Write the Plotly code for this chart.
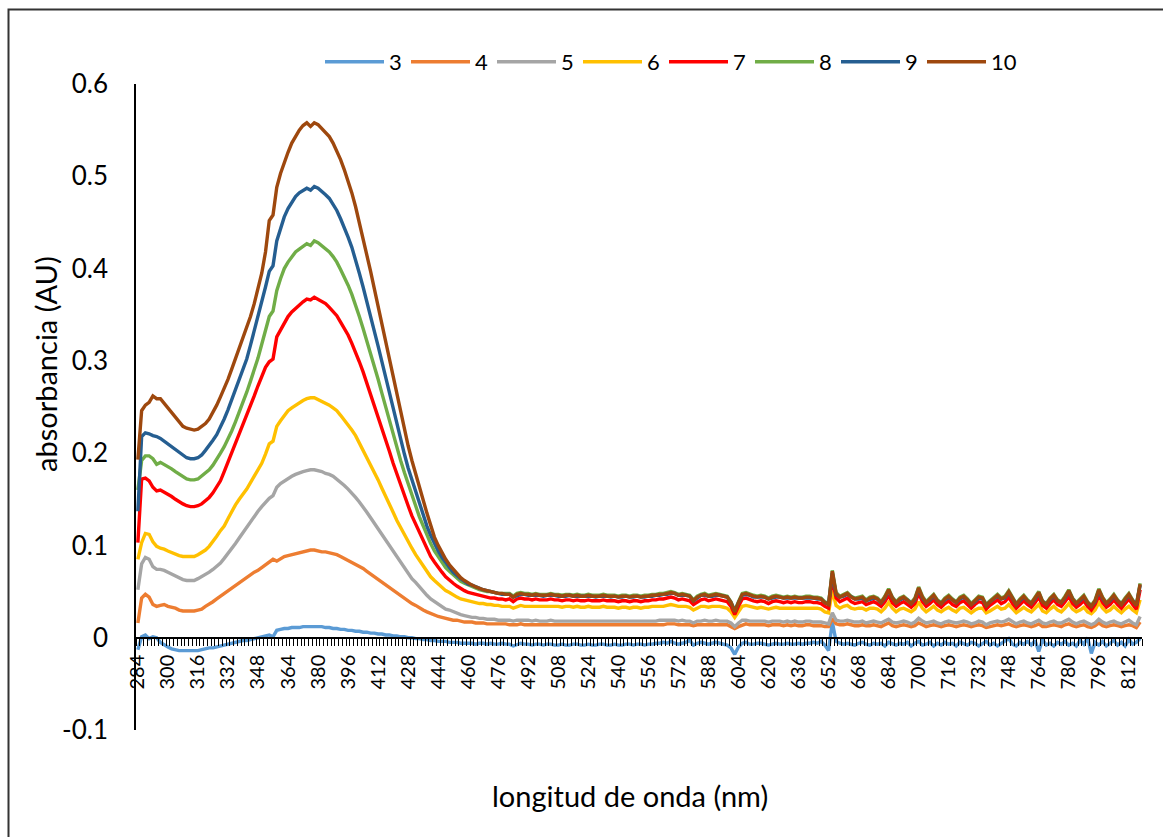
import plotly.graph_objects as go

# Wavelength grid of the spectra (nm), one category every 2 nm
wavelength_nm = list(range(284, 820, 2))

# Absorbance of each sample, in mAU (converted to AU when plotted)
a3 = [
    -13, 1, 3, -1, 1, 0, -5, -8, -10, -12,
    -13, -14, -14, -14, -14, -14, -14, -13, -12, -11,
    -11, -10, -9, -8, -7, -6, -5, -4, -3, -3,
    -2, -1, 0, 1, 2, 3, 1, 8, 9, 10,
    10, 11, 11, 11, 12, 12, 12, 12, 12, 12,
    11, 11, 10, 10, 9, 9, 8, 8, 7, 7,
    6, 6, 5, 5, 4, 4, 3, 3, 2, 2,
    1, 1, 0, 0, -1, -1, -2, -2, -3, -3,
    -4, -4, -4, -5, -5, -5, -6, -6, -6, -6,
    -7, -6, -6, -7, -6, -7, -7, -6, -7,
    -7, -9, -7, -6, -7, -7, -8, -7, -7, -8,
    -7, -7, -8, -8, -7, -8, -8, -7, -7, -8,
    -8, -7, -8, -8, -7, -7, -8, -8, -7, -8,
    -8, -7, -7, -8, -7, -7, -8, -7, -7, -6,
    -6, -5, -6, -4, -6, -7, -6, -5, -3, -8,
    -6, -5, -6, -7, -6, -5, -6, -7, -8, -11,
    -18, -10, -6, -5, -7, -7, -6, -6, -7, -8,
    -7, -6, -7, -7, -6, -7, -7, -6, -7, -6,
    -6, -5, -6, -4, -8, -14, 17, -4, -6, -7,
    -6, -7, -8, -6, -5, -7, -8, -6, -7, -6,
    -9, -5, -7, -8, -6, -7, -5, -9, -6, -4,
    -8, -7, -5, -9, -6, -8, -5, -7, -6, -9,
    -5, -7, -8, -5, -6, -9, -6, -4, -8, -6,
    -9, -6, -3, -1, -7, -9, -5, -7, -4, -8,
    -3, -15, -2, -8, -6, -9, -5, -7, -4, -8,
    -6, -9, -3, -7, 0, -17, -5, -8, -4, -9,
    -6, -3, -8, -5, -9, -2, -7, -5, -1,
]

a4 = [
    16, 43, 47, 44, 36, 34, 35, 36, 34, 33,
    32, 30, 29, 29, 29, 29, 30, 31, 34, 36,
    39, 42, 45, 48, 51, 53, 56, 59, 62, 65,
    68, 71, 73, 76, 79, 82, 85, 83, 86, 88,
    89, 90, 91, 92, 93, 94, 95, 95, 94, 93,
    93, 92, 91, 90, 88, 86, 84, 82, 80, 77,
    75, 72, 69, 66, 63, 60, 57, 54, 51, 48,
    45, 42, 40, 37, 35, 32, 30, 28, 26, 25,
    23, 22, 21, 20, 19, 19, 18, 17, 17, 17,
    16, 16, 16, 15, 15, 15, 15, 15, 15,
    14, 14, 14, 15, 14, 14, 14, 14, 14, 14,
    14, 14, 14, 14, 14, 14, 14, 14, 14, 14,
    14, 14, 14, 14, 14, 14, 14, 14, 14, 14,
    14, 14, 14, 14, 14, 14, 14, 14, 14, 14,
    14, 14, 15, 15, 15, 14, 14, 14, 14, 13,
    14, 14, 14, 14, 14, 14, 14, 14, 14, 12,
    10, 12, 14, 15, 14, 14, 14, 14, 14, 13,
    14, 14, 14, 13, 14, 13, 14, 13, 13, 14,
    14, 13, 13, 13, 12, 12, 21, 15, 14, 14,
    15, 14, 13, 13, 14, 13, 13, 14, 13, 12,
    14, 16, 13, 12, 13, 14, 13, 12, 13, 16,
    14, 12, 13, 14, 13, 12, 13, 14, 13, 12,
    13, 14, 13, 12, 13, 14, 13, 11, 12, 13,
    14, 13, 14, 15, 13, 12, 13, 14, 13, 12,
    13, 15, 12, 12, 13, 14, 13, 12, 14, 15,
    13, 12, 13, 14, 12, 11, 13, 16, 13, 12,
    13, 14, 13, 12, 13, 14, 13, 11, 17,
]

a5 = [
    52, 80, 87, 85, 77, 74, 74, 73, 71, 69,
    67, 65, 63, 62, 62, 62, 64, 66, 68, 71,
    74, 77, 81, 86, 91, 96, 102, 108, 114, 119,
    125, 131, 137, 142, 147, 151, 154, 163, 167, 170,
    173, 175, 177, 179, 180, 181, 182, 182, 181, 180,
    178, 177, 175, 172, 169, 165, 161, 157, 152, 147,
    142, 136, 130, 124, 118, 112, 105, 99, 93, 87,
    81, 75, 70, 64, 60, 55, 50, 46, 42, 39,
    36, 34, 31, 30, 28, 26, 25, 24, 23, 22,
    22, 21, 21, 20, 20, 20, 19, 19, 19,
    19, 18, 19, 19, 19, 19, 18, 19, 18, 18,
    18, 19, 18, 18, 18, 18, 18, 18, 18, 18,
    18, 18, 18, 18, 18, 18, 18, 18, 18, 18,
    18, 18, 18, 18, 18, 18, 18, 18, 18, 18,
    19, 19, 19, 19, 19, 18, 19, 18, 18, 16,
    18, 18, 19, 18, 18, 19, 18, 18, 18, 16,
    12, 16, 19, 19, 18, 18, 18, 18, 18, 17,
    18, 18, 18, 17, 18, 17, 18, 17, 17, 18,
    18, 17, 17, 17, 16, 15, 27, 19, 18, 18,
    19, 18, 17, 17, 18, 16, 17, 18, 17, 16,
    18, 20, 17, 16, 17, 18, 17, 15, 17, 21,
    18, 16, 17, 18, 16, 15, 17, 18, 17, 16,
    17, 18, 17, 15, 16, 18, 17, 14, 16, 17,
    18, 17, 18, 20, 17, 15, 17, 18, 16, 15,
    17, 19, 16, 15, 17, 18, 16, 16, 18, 20,
    17, 15, 17, 18, 16, 14, 16, 20, 17, 15,
    17, 18, 16, 15, 17, 19, 16, 14, 23,
]

a6 = [
    85, 103, 113, 112, 104, 99, 97, 96, 94, 92,
    90, 89, 88, 88, 88, 88, 90, 92, 95, 99,
    104, 110, 116, 121, 129, 137, 144, 150, 155, 161,
    168, 175, 182, 189, 199, 210, 213, 229, 235, 241,
    246, 249, 252, 255, 257, 259, 260, 260, 258, 256,
    255, 252, 249, 246, 241, 236, 231, 225, 219, 211,
    204, 196, 188, 179, 171, 162, 154, 145, 136, 127,
    119, 112, 104, 97, 90, 84, 77, 72, 66, 62,
    58, 54, 51, 49, 46, 44, 42, 41, 40, 39,
    38, 37, 37, 36, 36, 35, 35, 34, 34,
    34, 32, 34, 35, 34, 34, 34, 34, 34, 34,
    34, 34, 34, 34, 33, 34, 34, 33, 34, 33,
    33, 34, 33, 33, 33, 34, 33, 33, 33, 32,
    33, 33, 32, 33, 33, 32, 33, 33, 34, 34,
    34, 34, 35, 36, 35, 34, 34, 34, 33, 30,
    32, 34, 34, 33, 34, 34, 34, 33, 32, 28,
    22, 28, 34, 35, 34, 33, 32, 33, 32, 31,
    32, 33, 32, 32, 32, 32, 32, 32, 32, 32,
    32, 32, 32, 31, 28, 27, 51, 35, 32, 34,
    35, 32, 31, 32, 32, 30, 32, 32, 31, 28,
    32, 38, 32, 28, 31, 32, 30, 28, 31, 39,
    32, 28, 31, 34, 30, 28, 31, 33, 30, 28,
    32, 33, 30, 27, 30, 32, 32, 27, 29, 32,
    34, 31, 32, 36, 31, 27, 30, 33, 30, 28,
    32, 36, 29, 27, 31, 34, 30, 28, 32, 37,
    31, 28, 30, 33, 28, 26, 30, 38, 32, 28,
    30, 34, 30, 27, 31, 34, 30, 27, 41,
]

a7 = [
    103, 172, 173, 170, 163, 159, 160, 158, 155, 153,
    150, 147, 145, 143, 142, 142, 143, 145, 148, 152,
    157, 163, 170, 180, 190, 200, 211, 222, 232, 241,
    251, 262, 273, 284, 293, 299, 302, 326, 334, 342,
    348, 353, 357, 361, 364, 367, 366, 369, 367, 364,
    362, 358, 354, 349, 342, 335, 328, 319, 310, 299,
    288, 276, 264, 252, 240, 228, 215, 202, 189, 177,
    165, 154, 143, 132, 123, 113, 104, 96, 88, 82,
    76, 71, 66, 62, 59, 56, 53, 51, 49, 48,
    47, 46, 45, 44, 43, 43, 42, 42, 41,
    42, 39, 42, 43, 42, 42, 41, 42, 41, 41,
    41, 42, 41, 41, 40, 41, 41, 40, 41, 40,
    40, 41, 40, 40, 40, 41, 40, 40, 40, 39,
    40, 40, 39, 40, 40, 39, 40, 40, 41, 41,
    42, 42, 43, 44, 43, 41, 42, 41, 40, 36,
    39, 41, 42, 40, 41, 42, 41, 40, 39, 34,
    25, 34, 42, 43, 41, 40, 39, 40, 39, 37,
    39, 40, 39, 38, 39, 38, 39, 38, 38, 39,
    39, 38, 38, 37, 34, 32, 64, 43, 39, 41,
    43, 39, 37, 38, 39, 36, 38, 39, 37, 34,
    39, 46, 38, 34, 37, 39, 36, 33, 37, 48,
    39, 34, 37, 41, 36, 33, 37, 40, 36, 34,
    38, 40, 36, 32, 36, 39, 38, 31, 35, 38,
    41, 37, 39, 44, 37, 32, 36, 40, 36, 33,
    38, 44, 35, 32, 37, 41, 36, 34, 39, 45,
    37, 33, 36, 40, 34, 30, 36, 46, 38, 33,
    36, 41, 36, 32, 37, 42, 36, 31, 52,
]

a8 = [
    160, 192, 197, 197, 194, 188, 190, 188, 185, 183,
    180, 177, 174, 172, 171, 171, 172, 175, 178, 182,
    187, 193, 200, 207, 215, 224, 234, 244, 255, 266,
    278, 290, 303, 318, 334, 348, 354, 376, 389, 400,
    407, 413, 418, 421, 424, 427, 425, 430, 428, 425,
    422, 418, 413, 407, 399, 391, 382, 372, 361, 348,
    335, 322, 308, 294, 280, 265, 250, 235, 220, 206,
    192, 179, 166, 154, 143, 131, 121, 111, 102, 94,
    88, 82, 76, 72, 68, 64, 61, 59, 57, 55,
    54, 52, 51, 50, 50, 49, 48, 48, 48,
    48, 45, 48, 49, 48, 48, 47, 48, 47, 47,
    47, 48, 47, 47, 46, 47, 47, 46, 47, 46,
    46, 47, 46, 46, 46, 47, 46, 46, 46, 45,
    46, 46, 45, 46, 46, 45, 46, 46, 47, 47,
    48, 48, 49, 50, 49, 47, 48, 47, 46, 41,
    45, 47, 48, 46, 47, 48, 47, 46, 45, 39,
    29, 39, 48, 49, 47, 46, 45, 46, 45, 43,
    45, 46, 45, 44, 45, 44, 45, 44, 44, 45,
    45, 44, 44, 43, 39, 37, 73, 49, 45, 47,
    49, 45, 43, 44, 45, 41, 44, 45, 43, 39,
    45, 53, 44, 39, 43, 45, 42, 38, 43, 55,
    45, 39, 43, 47, 41, 38, 43, 46, 42, 39,
    44, 46, 42, 37, 41, 45, 44, 36, 40, 44,
    47, 43, 45, 51, 43, 37, 42, 46, 41, 38,
    44, 50, 40, 37, 43, 47, 41, 39, 45, 52,
    43, 38, 42, 46, 39, 35, 41, 53, 44, 38,
    42, 47, 41, 37, 43, 48, 41, 36, 59,
]

a9 = [
    137, 218, 222, 221, 219, 218, 216, 213, 210, 207,
    204, 200, 197, 195, 194, 194, 195, 198, 203, 208,
    214, 220, 228, 237, 247, 258, 269, 280, 291, 302,
    317, 332, 348, 363, 380, 397, 403, 430, 443, 456,
    465, 472, 478, 482, 485, 487, 485, 489, 487, 484,
    480, 476, 470, 463, 454, 445, 434, 423, 410, 395,
    380, 365, 349, 332, 316, 299, 282, 265, 247, 231,
    215, 199, 184, 171, 157, 144, 132, 121, 111, 102,
    94, 87, 81, 76, 71, 67, 64, 61, 58, 57,
    55, 53, 52, 51, 50, 49, 48, 47, 47,
    47, 44, 46, 47, 47, 46, 46, 46, 46, 45,
    46, 46, 46, 45, 45, 45, 46, 45, 45, 45,
    45, 45, 45, 44, 45, 45, 45, 44, 45, 44,
    44, 45, 44, 44, 45, 44, 44, 45, 45, 46,
    46, 47, 47, 48, 48, 46, 46, 46, 45, 40,
    43, 46, 46, 45, 45, 46, 46, 45, 44, 38,
    29, 38, 46, 47, 46, 44, 44, 44, 44, 42,
    43, 44, 44, 43, 43, 43, 43, 43, 43, 43,
    43, 43, 42, 42, 38, 36, 70, 47, 44, 45,
    47, 44, 42, 42, 43, 40, 42, 43, 42, 38,
    43, 51, 43, 38, 41, 43, 41, 37, 41, 53,
    43, 38, 41, 45, 40, 37, 41, 44, 41, 38,
    42, 44, 41, 36, 39, 43, 42, 35, 39, 42,
    45, 42, 43, 49, 42, 36, 40, 44, 40, 37,
    42, 48, 39, 36, 41, 45, 40, 38, 43, 50,
    42, 37, 40, 44, 38, 34, 39, 51, 42, 37,
    40, 45, 40, 36, 41, 46, 40, 35, 57,
]

a10 = [
    193, 246, 252, 255, 262, 259, 259, 254, 248, 243,
    238, 233, 229, 227, 226, 225, 226, 229, 232, 237,
    244, 252, 261, 270, 280, 291, 302, 313, 324, 336,
    348, 362, 378, 395, 418, 452, 458, 488, 503, 516,
    526, 536, 544, 550, 555, 558, 554, 558, 556, 552,
    548, 543, 536, 528, 518, 507, 495, 482, 467, 450,
    433, 415, 397, 378, 359, 340, 320, 300, 280, 261,
    243, 225, 208, 192, 177, 162, 148, 135, 122, 109,
    100, 92, 85, 79, 74, 69, 65, 62, 59, 57,
    55, 53, 52, 51, 50, 49, 48, 48, 47,
    47, 44, 47, 48, 47, 47, 46, 47, 46, 46,
    46, 47, 46, 46, 45, 46, 46, 45, 46, 45,
    45, 46, 45, 45, 45, 46, 45, 45, 45, 44,
    45, 45, 44, 45, 45, 44, 45, 45, 46, 46,
    47, 47, 48, 49, 48, 46, 47, 46, 45, 40,
    44, 46, 47, 45, 46, 47, 46, 45, 44, 38,
    28, 38, 47, 48, 46, 45, 44, 45, 44, 42,
    44, 45, 44, 43, 44, 43, 44, 43, 43, 44,
    44, 43, 43, 42, 38, 36, 72, 48, 44, 46,
    48, 44, 42, 43, 44, 40, 43, 44, 42, 38,
    44, 52, 43, 38, 42, 44, 41, 37, 42, 54,
    44, 38, 42, 46, 40, 37, 42, 45, 41, 38,
    43, 45, 41, 36, 40, 44, 43, 35, 39, 43,
    46, 42, 44, 50, 42, 36, 41, 45, 40, 37,
    43, 49, 39, 36, 42, 46, 40, 38, 44, 51,
    42, 37, 41, 45, 38, 34, 40, 52, 43, 37,
    41, 46, 40, 36, 42, 47, 40, 35, 58,
]

series_names = ["3", "4", "5", "6", "7", "8", "9", "10"]
series_values = [a3, a4, a5, a6, a7, a8, a9, a10]
series_colors = ["#5B9BD5", "#ED7D31", "#A5A5A5", "#FFC000",
                 "#FF0000", "#70AD47", "#255E91", "#9E480E"]

x_tick_values = list(range(284, 813, 16))
y_tick_values = [-0.1, 0, 0.1, 0.2, 0.3, 0.4, 0.5, 0.6]
y_tick_text = ["-0.1", "0", "0.1", "0.2", "0.3", "0.4", "0.5", "0.6"]

for name, vals in zip(series_names, series_values):
    if len(vals) != len(wavelength_nm):
        raise ValueError(f"series {name}: {len(vals)} values")

# Figure geometry in pixels
W, H = 1163, 837
PL, PR, PT, PB = 136, 1142, 84, 730
FONT = "Lato"


def paper_x(px):
    return (px - PL) / (PR - PL)


def paper_y(py):
    return (PB - py) / (PB - PT)


fig = go.Figure()
for name, vals, color in zip(series_names, series_values, series_colors):
    fig.add_trace(go.Scatter(
        x=wavelength_nm,
        y=[v / 1000 for v in vals],
        mode="lines",
        name=name,
        line=dict(color=color, width=3.4),
        hoverinfo="skip",
    ))

# Empty trailing legend slot so the fixed-width last entry ("10") is not cut off
fig.add_trace(go.Scatter(
    x=[None], y=[None], mode="lines", name=" ",
    line=dict(color="rgba(0,0,0,0)", width=0),
    hoverinfo="skip",
))

y_min, y_max = -0.1, 0.6
fig.update_layout(
    width=W, height=H,
    margin=dict(l=PL, r=W - PR, t=PT, b=H - PB, autoexpand=False),
    paper_bgcolor="white",
    plot_bgcolor="white",
    font=dict(family=FONT, color="black"),
    showlegend=True,
    legend=dict(
        orientation="h",
        x=paper_x(320), xanchor="left",
        y=paper_y(62), yanchor="middle",
        font=dict(size=22, family=FONT, color="black"),
        bgcolor="rgba(0,0,0,0)",
        entrywidth=12, entrywidthmode="pixels",
        itemwidth=59,
    ),
    xaxis=dict(
        range=[283, 819],
        anchor="free",
        position=(0 - y_min) / (y_max - y_min),
        showline=True, linecolor="black", linewidth=2,
        showgrid=False, zeroline=False,
        tickmode="array", tickvals=x_tick_values,
        ticktext=[str(v) for v in x_tick_values],
        tickangle=-90,
        ticks="outside", ticklen=8, tickcolor="rgba(0,0,0,0)",
        tickfont=dict(size=20, family=FONT, color="black"),
        minor=dict(tickmode="linear", tick0=283, dtick=2,
                   ticks="outside", ticklen=7, tickwidth=1,
                   tickcolor="black", showgrid=False),
        automargin=False,
        fixedrange=True,
    ),
    yaxis=dict(
        range=[y_min, y_max],
        showline=True, linecolor="black", linewidth=1.5,
        showgrid=False, zeroline=False,
        tickmode="array", tickvals=y_tick_values, ticktext=y_tick_text,
        ticks="", ticklabelstandoff=21,
        tickfont=dict(size=26, family=FONT, color="black"),
        automargin=False,
        fixedrange=True,
    ),
    annotations=[
        dict(text="absorbancia (AU)", xref="paper", yref="paper",
             x=paper_x(45), y=paper_y(364), textangle=-90,
             showarrow=False, xanchor="center", yanchor="middle",
             font=dict(size=29, family=FONT, color="black")),
        dict(text="longitud de onda (nm)", xref="paper", yref="paper",
             x=paper_x(630), y=paper_y(795),
             showarrow=False, xanchor="center", yanchor="middle",
             font=dict(size=29, family=FONT, color="black")),
    ],
    shapes=[
        dict(type="rect", xref="paper", yref="paper", layer="below",
             x0=paper_x(8.5), x1=paper_x(W + 20),
             y0=paper_y(H + 20), y1=paper_y(9.5),
             line=dict(color="#333333", width=2), fillcolor="rgba(0,0,0,0)"),
    ],
)

fig.write_html("out.html")
